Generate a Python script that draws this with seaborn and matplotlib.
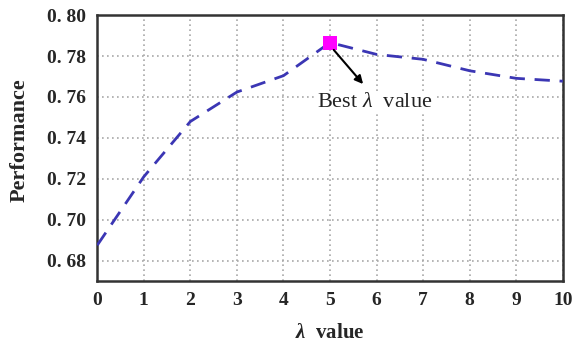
import numpy as np
import pandas as pd
import matplotlib
matplotlib.use("Agg")
import matplotlib.pyplot as plt
import seaborn as sns
from matplotlib.ticker import FixedLocator, FixedFormatter

# ---- data ----
lambda_values = [0, 1, 2, 3, 4, 5, 6, 7, 8, 9, 10]
performance = [0.6875, 0.721, 0.748, 0.7624, 0.7704, 0.7866, 0.7808, 0.7784, 0.7728, 0.7691, 0.7677]
y_ticks = [0.68, 0.70, 0.72, 0.74, 0.76, 0.78, 0.80]
y_tick_labels = ["0. 68", "0. 70", "0. 72", "0. 74", "0. 76", "0. 78", "0. 80"]
x_ticks = [0, 1, 2, 3, 4, 5, 6, 7, 8, 9, 10]

sns.set_style("white")
plt.rcParams["font.family"] = ["Liberation Serif", "DejaVu Serif"]
plt.rcParams["mathtext.fontset"] = "custom"
plt.rcParams["mathtext.it"] = "Liberation Serif:italic"
plt.rcParams["mathtext.bf"] = "Liberation Serif:italic:bold"
plt.rcParams["mathtext.rm"] = "Liberation Serif"

df = pd.DataFrame({"lam": lambda_values, "perf": performance})

fig = plt.figure(figsize=(5.72, 3.44), dpi=100)
ax = fig.add_axes([0.170, 0.183, 0.814, 0.773])

sns.lineplot(data=df, x="lam", y="perf", ax=ax, color="#3b36b4",
             linewidth=2.0, dashes=False, zorder=3)
ax.lines[0].set_dashes([5.5, 3.5])

best_i = int(np.argmax(performance))
sns.scatterplot(x=[lambda_values[best_i]], y=[performance[best_i]], ax=ax,
                marker="s", s=110, color="#ff00ff", edgecolor="#ff00ff",
                linewidth=0, zorder=5)

ax.annotate("", xy=(5.71, 0.7663), xytext=(5.08, 0.7830),
            arrowprops=dict(arrowstyle="-|>", color="black", lw=1.5,
                            mutation_scale=12, shrinkA=0, shrinkB=0),
            zorder=6)
ax.text(5.95, 0.7572, r"Best $\lambda$  value", ha="center", va="center",
        fontsize=16, color="#222222", zorder=6,
        bbox=dict(facecolor="white", edgecolor="none", pad=1.5))

ax.set_xlim(0, 10)
ax.set_ylim(0.67, 0.80)
ax.xaxis.set_major_locator(FixedLocator(x_ticks))
ax.yaxis.set_major_locator(FixedLocator(y_ticks))
ax.yaxis.set_major_formatter(FixedFormatter(y_tick_labels))
ax.set_xticklabels([str(v) for v in x_ticks])

ax.grid(True, which="major", linestyle=(0, (1, 2)), color="#a8a8a8", linewidth=1.2)
ax.tick_params(axis="both", length=0, labelsize=14, pad=8)
for lab in ax.get_xticklabels() + ax.get_yticklabels():
    lab.set_fontweight("bold")

for sp in ax.spines.values():
    sp.set_visible(True)
    sp.set_color("#333333")
    sp.set_linewidth(1.8)

ax.set_xlabel(r"$\mathbf{\lambda}$  value", fontsize=15, fontweight="bold", labelpad=10)
ax.set_ylabel("Performance", fontsize=16, fontweight="bold", labelpad=8)
ax.yaxis.set_label_coords(-0.146, 0.53)

fig.savefig("out.png", dpi=100)
